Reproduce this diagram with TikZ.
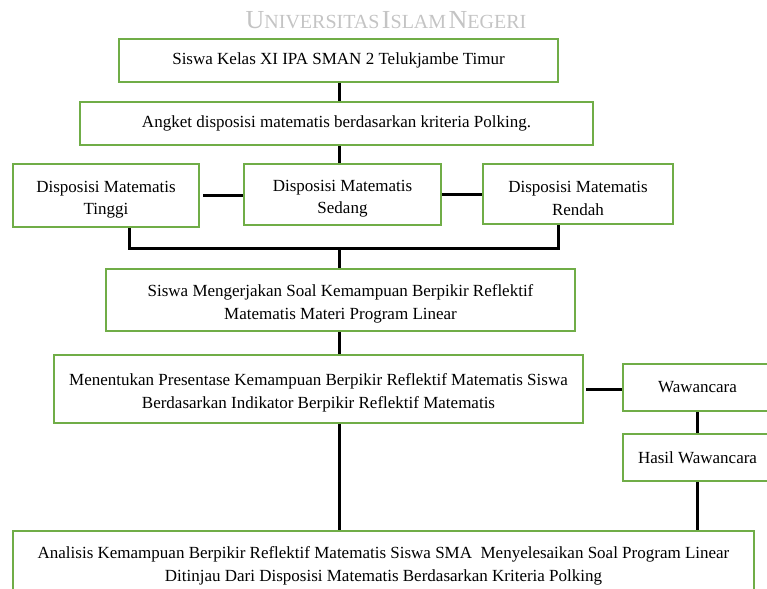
\documentclass[tikz,border=0pt]{standalone}
\usepackage{fontspec}
\setmainfont{Liberation Serif}
\definecolor{boxgreen}{HTML}{70AD47}
\definecolor{wm}{HTML}{C4C4C4}
\newcommand{\bigsc}[1]{{\fontsize{26}{26}\selectfont #1}}
\newcommand{\smsc}[1]{{\fontsize{20}{26}\selectfont #1}}
\newcommand{\lowr}{\rule{0pt}{20pt}}
\begin{document}
\begin{tikzpicture}[x=1pt,y=-1pt,
  box/.style={draw=boxgreen, line width=2pt, fill=white, rectangle, align=center,
    inner sep=0pt, font=\fontsize{17}{22.5}\selectfont},
  conn/.style={line width=3pt, black}]
\useasboundingbox (0,0) rectangle (767,588);
\begin{scope}
\clip (0,0) rectangle (767,588);
\node[text=wm, inner sep=0pt] (wmk) at (386,20)
  {\bigsc{U}\smsc{NIVERSITAS}\ \bigsc{I}\smsc{SLAM}\ \bigsc{N}\smsc{EGERI}};

\node[box, minimum width=439pt, minimum height=43pt] (b1) at (338.5,60.5)
  {Siswa Kelas XI IPA SMAN 2 Telukjambe Timur};
\node[box, minimum width=513pt, minimum height=43pt] (b2) at (336.5,123.5)
  {Angket disposisi matematis berdasarkan kriteria Polking.};
\node[box, minimum width=186pt, minimum height=63pt] (ti) at (106,195.5)
  {\lowr Disposisi Matematis\\Tinggi};
\node[box, minimum width=197pt, minimum height=61pt] (se) at (342.5,194.5)
  {\lowr Disposisi Matematis\\Sedang};
\node[box, minimum width=190pt, minimum height=60pt] (re) at (578,194)
  {\lowr Disposisi Matematis\\Rendah};
\node[box, minimum width=469pt, minimum height=62pt] (m) at (340.5,300)
  {\lowr Siswa Mengerjakan Soal Kemampuan Berpikir Reflektif\\Matematis Materi Program Linear};
\node[box, minimum width=529pt, minimum height=68pt] (k) at (318.5,389)
  {\lowr Menentukan Presentase Kemampuan Berpikir Reflektif Matematis Siswa\\Berdasarkan Indikator Berpikir Reflektif Matematis};
\node[box, minimum width=149pt, minimum height=47pt] (w) at (697.5,387.5)
  {Wawancara};
\node[box, minimum width=149pt, minimum height=47pt] (h) at (697.5,457.5)
  {Hasil Wawancara};
\node[box, minimum width=741pt, minimum height=62pt] (f) at (383.5,562)
  {\lowr Analisis Kemampuan Berpikir Reflektif Matematis Siswa SMA\ \ Menyelesaikan Soal Program Linear\\Ditinjau Dari Disposisi Matematis Berdasarkan Kriteria Polking};

\coordinate (j) at (339,248.5);
\draw[conn] (b1.south -| j) -- (b2.north -| j);
\draw[conn] (b2.south -| j) -- (se.north -| j);
\draw[conn] ([xshift=3pt]ti.east) -- (ti.east -| se.west);
\draw[conn] (se.east) -- (se.east -| re.west);
\draw[conn] ([xshift=23pt]ti.south) |- (j) -| ([xshift=-20pt]re.south);
\draw[conn] (j) -- (m.north -| j);
\draw[conn] (m.south -| j) -- (k.north -| j);
\draw[conn] ([xshift=2pt]k.east) -- (k.east -| w.west);
\draw[conn] (w.south) -- (h.north);
\draw[conn] (h.south) -- (f.north -| h.south);
\draw[conn] (k.south -| j) -- (f.north -| j);
\end{scope}
\end{tikzpicture}
\end{document}
